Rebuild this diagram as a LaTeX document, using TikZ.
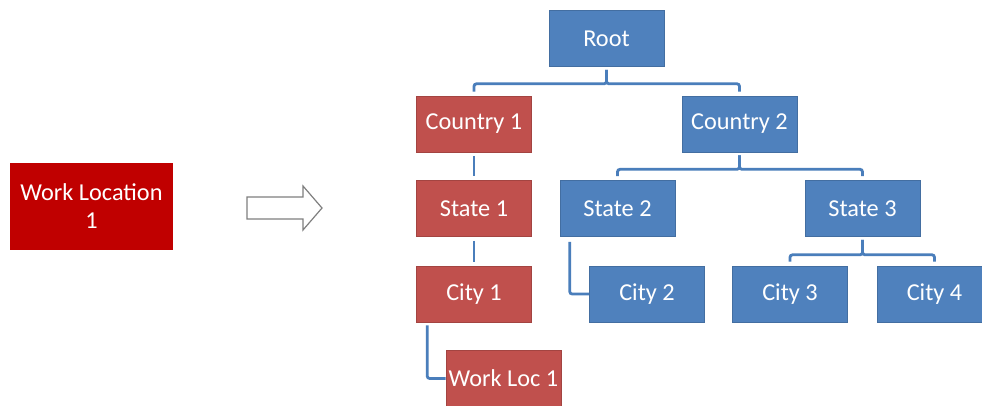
\documentclass[tikz,border=0pt]{standalone}
\usepackage{fontspec}
\setmainfont{Carlito}
\definecolor{wlred}{HTML}{C00000}
\definecolor{boxred}{HTML}{C0504D}
\definecolor{boxblue}{HTML}{4F81BD}
\definecolor{linkblue}{HTML}{4A7EBB}
\definecolor{arrowgray}{HTML}{7F7F7F}
\begin{document}
\begin{tikzpicture}[x=1pt,y=-1pt,
  box/.style={rectangle, minimum width=115pt, minimum height=56pt, inner sep=0pt,
    text=white, font=\fontsize{24.3}{26}\selectfont},
  redbox/.style={box, fill=boxred, draw=boxred!85!black, line width=0.6pt},
  bluebox/.style={box, fill=boxblue, draw=boxblue!85!black, line width=0.6pt},
  conn/.style={draw=linkblue, line width=2.8pt, rounded corners=2.5pt}]
\useasboundingbox (0,0) rectangle (982,405);
\fill[white] (0,0) rectangle (982,405);

% left source box
\node[box, fill=wlred, minimum width=163pt, minimum height=87pt, align=center,
  font=\fontsize{24.3}{28}\selectfont] (wl) at (91.5,206.5) {Work Location\\1};

% outline block arrow
\draw[arrowgray, line width=1.2pt, line join=miter, fill=white]
  (247,197) -- (303,197) -- (303,186) -- (322,208) -- (303,230) -- (303,219) -- (247,219) -- cycle;

% tree
\node[bluebox] (root) at (606.5,38.5) {Root};
\node[redbox] (c1) at (474,124) {Country 1};
\node[bluebox] (c2) at (739.5,124) {Country 2};
\node[redbox] (s1) at (474,208.5) {State 1};
\node[bluebox] (s2) at (617.5,208.5) {State 2};
\node[bluebox] (s3) at (862.5,208.5) {State 3};
\node[redbox] (ci1) at (474,294) {City 1};
\node[bluebox] (ci2) at (647,294) {City 2};
\node[bluebox] (ci3) at (790,294) {City 3};
\node[bluebox] (ci4) at (934.5,294) {City 4};
\node[redbox] (wl1) at (503.5,378.5) {Work Loc 1};

% connectors
\draw[conn] ([yshift=-3pt]root.south) -- ++(0,14) -| ([yshift=4pt]c1.north);
\draw[conn] ([yshift=-3pt]root.south) -- ++(0,14) -| ([yshift=4pt]c2.north);
\draw[conn] ([yshift=-3pt]c2.south) -- ++(0,14) -| ([yshift=4pt]s2.north);
\draw[conn] ([yshift=-3pt]c2.south) -- ++(0,14) -| ([yshift=4pt]s3.north);
\draw[conn] ([yshift=-3pt]s3.south) -- ++(0,15) -| ([yshift=4pt]ci3.north);
\draw[conn] ([yshift=-3pt]s3.south) -- ++(0,15) -| ([yshift=4pt]ci4.north);
\draw[conn] ([yshift=-4pt]c1.south) -- ([yshift=4pt]s1.north);
\draw[conn] ([yshift=-4pt]s1.south) -- ([yshift=4pt]ci1.north);
\draw[conn] ([xshift=10pt,yshift=-5pt]s2.south west) |- (ci2.west);
\draw[conn] ([xshift=11pt,yshift=-3pt]ci1.south west) |- (wl1.west);
\end{tikzpicture}
\end{document}
